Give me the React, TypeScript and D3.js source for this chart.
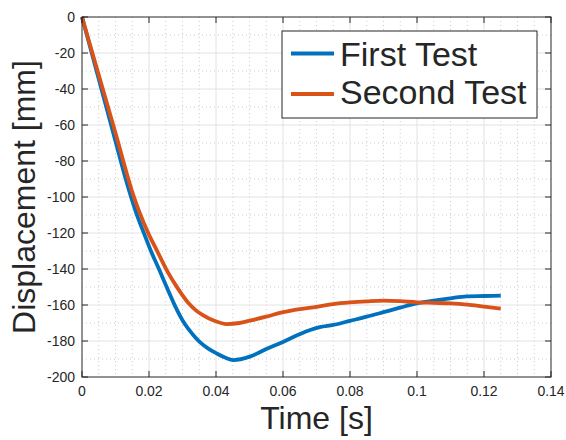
import React from 'react';
import * as d3 from 'd3';

const W = 566;
const H = 440;
const M = { left: 82, right: 551, top: 17, bottom: 377 };

// Time [s] / displacement [mm] samples
const firstT = [0, 0.005, 0.01, 0.01313, 0.016, 0.0185, 0.0208, 0.0231, 0.0255, 0.0278, 0.0307, 0.033, 0.0352, 0.0377, 0.0402, 0.0427, 0.0452, 0.0501, 0.055, 0.06, 0.0651, 0.0681, 0.071, 0.075, 0.08, 0.085, 0.09, 0.0949, 0.0999, 0.105, 0.1099, 0.1148, 0.12, 0.125];
const firstD = [0, -34.5, -69, -90.6, -107.8, -120.2, -131, -140.6, -151, -160.6, -170.6, -176.2, -180.6, -184.2, -186.9, -189.2, -190.6, -188.7, -184.5, -180.5, -176.1, -173.9, -172.3, -171.1, -168.8, -166.5, -164, -161.5, -159.1, -157.6, -156.3, -155.2, -155, -154.8];

const secondT = [0, 0.005, 0.01, 0.01531, 0.0172, 0.0198, 0.0227, 0.02528, 0.0285, 0.0317, 0.034, 0.0362, 0.0395, 0.0432, 0.047, 0.0501, 0.055, 0.06, 0.065, 0.07, 0.075, 0.08, 0.085, 0.09, 0.095, 0.1, 0.105, 0.11, 0.115, 0.12, 0.125];
const secondD = [0, -32.2, -64.4, -98.9, -108.7, -120.2, -131, -140.6, -150.5, -158.8, -163, -165.8, -168.8, -170.6, -170, -168.7, -166.5, -164, -162.3, -161, -159.5, -158.6, -158, -157.6, -157.9, -158.5, -158.8, -159.1, -159.8, -160.9, -162];

const xTicks = [0, 0.02, 0.04, 0.06, 0.08, 0.1, 0.12, 0.14];
const yTicks = [0, -20, -40, -60, -80, -100, -120, -140, -160, -180, -200];
const xMinor = d3.range(0.005, 0.14, 0.005);
const yMinor = d3.range(-10, -200, -10);

const seriesNames = ['First Test', 'Second Test'];
const seriesColors = ['#0072BD', '#D95319'];

const FONT = '"Liberation Sans", Arial, Helvetica, sans-serif';
const AX = '#262626';

export default function App() {
  const x = d3.scaleLinear().domain([0, 0.14]).range([M.left, M.right]);
  const y = d3.scaleLinear().domain([-200, 0]).range([M.bottom, M.top]);

  const line = d3.line<[number, number]>()
    .x(d => x(d[0]))
    .y(d => y(d[1]))
    .curve(d3.curveMonotoneX);

  const series = [
    firstT.map((t, i) => [t, firstD[i]] as [number, number]),
    secondT.map((t, i) => [t, secondD[i]] as [number, number]),
  ];

  const tickLen = 6;

  return (
    <svg width={W} height={H} style={{ position: 'absolute', left: 0, top: 0, background: '#fff' }}>
      {/* minor grid */}
      <g stroke="#cccccc" strokeWidth={1} strokeDasharray="1 3">
        {xMinor.filter(v => !xTicks.some(t => Math.abs(t - v) < 1e-9)).map(v => (
          <line key={'xm' + v} x1={x(v)} x2={x(v)} y1={M.top} y2={M.bottom} />
        ))}
        {yMinor.filter(v => v % 20 !== 0).map(v => (
          <line key={'ym' + v} x1={M.left} x2={M.right} y1={y(v)} y2={y(v)} />
        ))}
      </g>
      {/* major grid */}
      <g stroke="#e2e2e2" strokeWidth={1}>
        {xTicks.slice(1, -1).map(v => (
          <line key={'xg' + v} x1={x(v)} x2={x(v)} y1={M.top} y2={M.bottom} />
        ))}
        {yTicks.slice(1, -1).map(v => (
          <line key={'yg' + v} x1={M.left} x2={M.right} y1={y(v)} y2={y(v)} />
        ))}
      </g>

      {/* data */}
      {series.map((s, i) => (
        <path key={i} d={line(s) || ''} fill="none" stroke={seriesColors[i]} strokeWidth={3.8} strokeLinejoin="round" />
      ))}

      {/* box + ticks */}
      <rect x={M.left} y={M.top} width={M.right - M.left} height={M.bottom - M.top} fill="none" stroke={AX} strokeWidth={1} />
      <g stroke={AX} strokeWidth={1}>
        {xTicks.map(v => (
          <g key={'xt' + v}>
            <line x1={x(v)} x2={x(v)} y1={M.bottom} y2={M.bottom - tickLen} />
            <line x1={x(v)} x2={x(v)} y1={M.top} y2={M.top + tickLen} />
          </g>
        ))}
        {yTicks.map(v => (
          <g key={'yt' + v}>
            <line x1={M.left} x2={M.left + tickLen} y1={y(v)} y2={y(v)} />
            <line x1={M.right} x2={M.right - tickLen} y1={y(v)} y2={y(v)} />
          </g>
        ))}
      </g>

      {/* tick labels */}
      <g fontFamily={FONT} fontSize={14} fill={AX}>
        {xTicks.map(v => (
          <text key={'xl' + v} x={x(v)} y={396} textAnchor="middle">{d3.format('~g')(v)}</text>
        ))}
        {yTicks.map(v => (
          <text key={'yl' + v} x={75} y={y(v)} dy="0.35em" textAnchor="end">{v}</text>
        ))}
      </g>

      {/* axis labels */}
      <text x={(M.left + M.right) / 2} y={429} textAnchor="middle" fontFamily={FONT} fontSize={32} fill={AX}>Time [s]</text>
      <text transform={`translate(35,${(M.top + M.bottom) / 2}) rotate(-90)`} textAnchor="middle" fontFamily={FONT} fontSize={32} fill={AX}>Displacement [mm]</text>

      {/* legend */}
      <rect x={282} y={31} width={255} height={87} fill="#fff" stroke={AX} strokeWidth={1} />
      {seriesNames.map((n, i) => (
        <g key={n}>
          <line x1={291} x2={334} y1={53.5 + i * 40.5} y2={53.5 + i * 40.5} stroke={seriesColors[i]} strokeWidth={4} />
          <text x={340} y={65.5 + i * 38.5} fontFamily={FONT} fontSize={34} fill={AX}>{n}</text>
        </g>
      ))}
    </svg>
  );
}
